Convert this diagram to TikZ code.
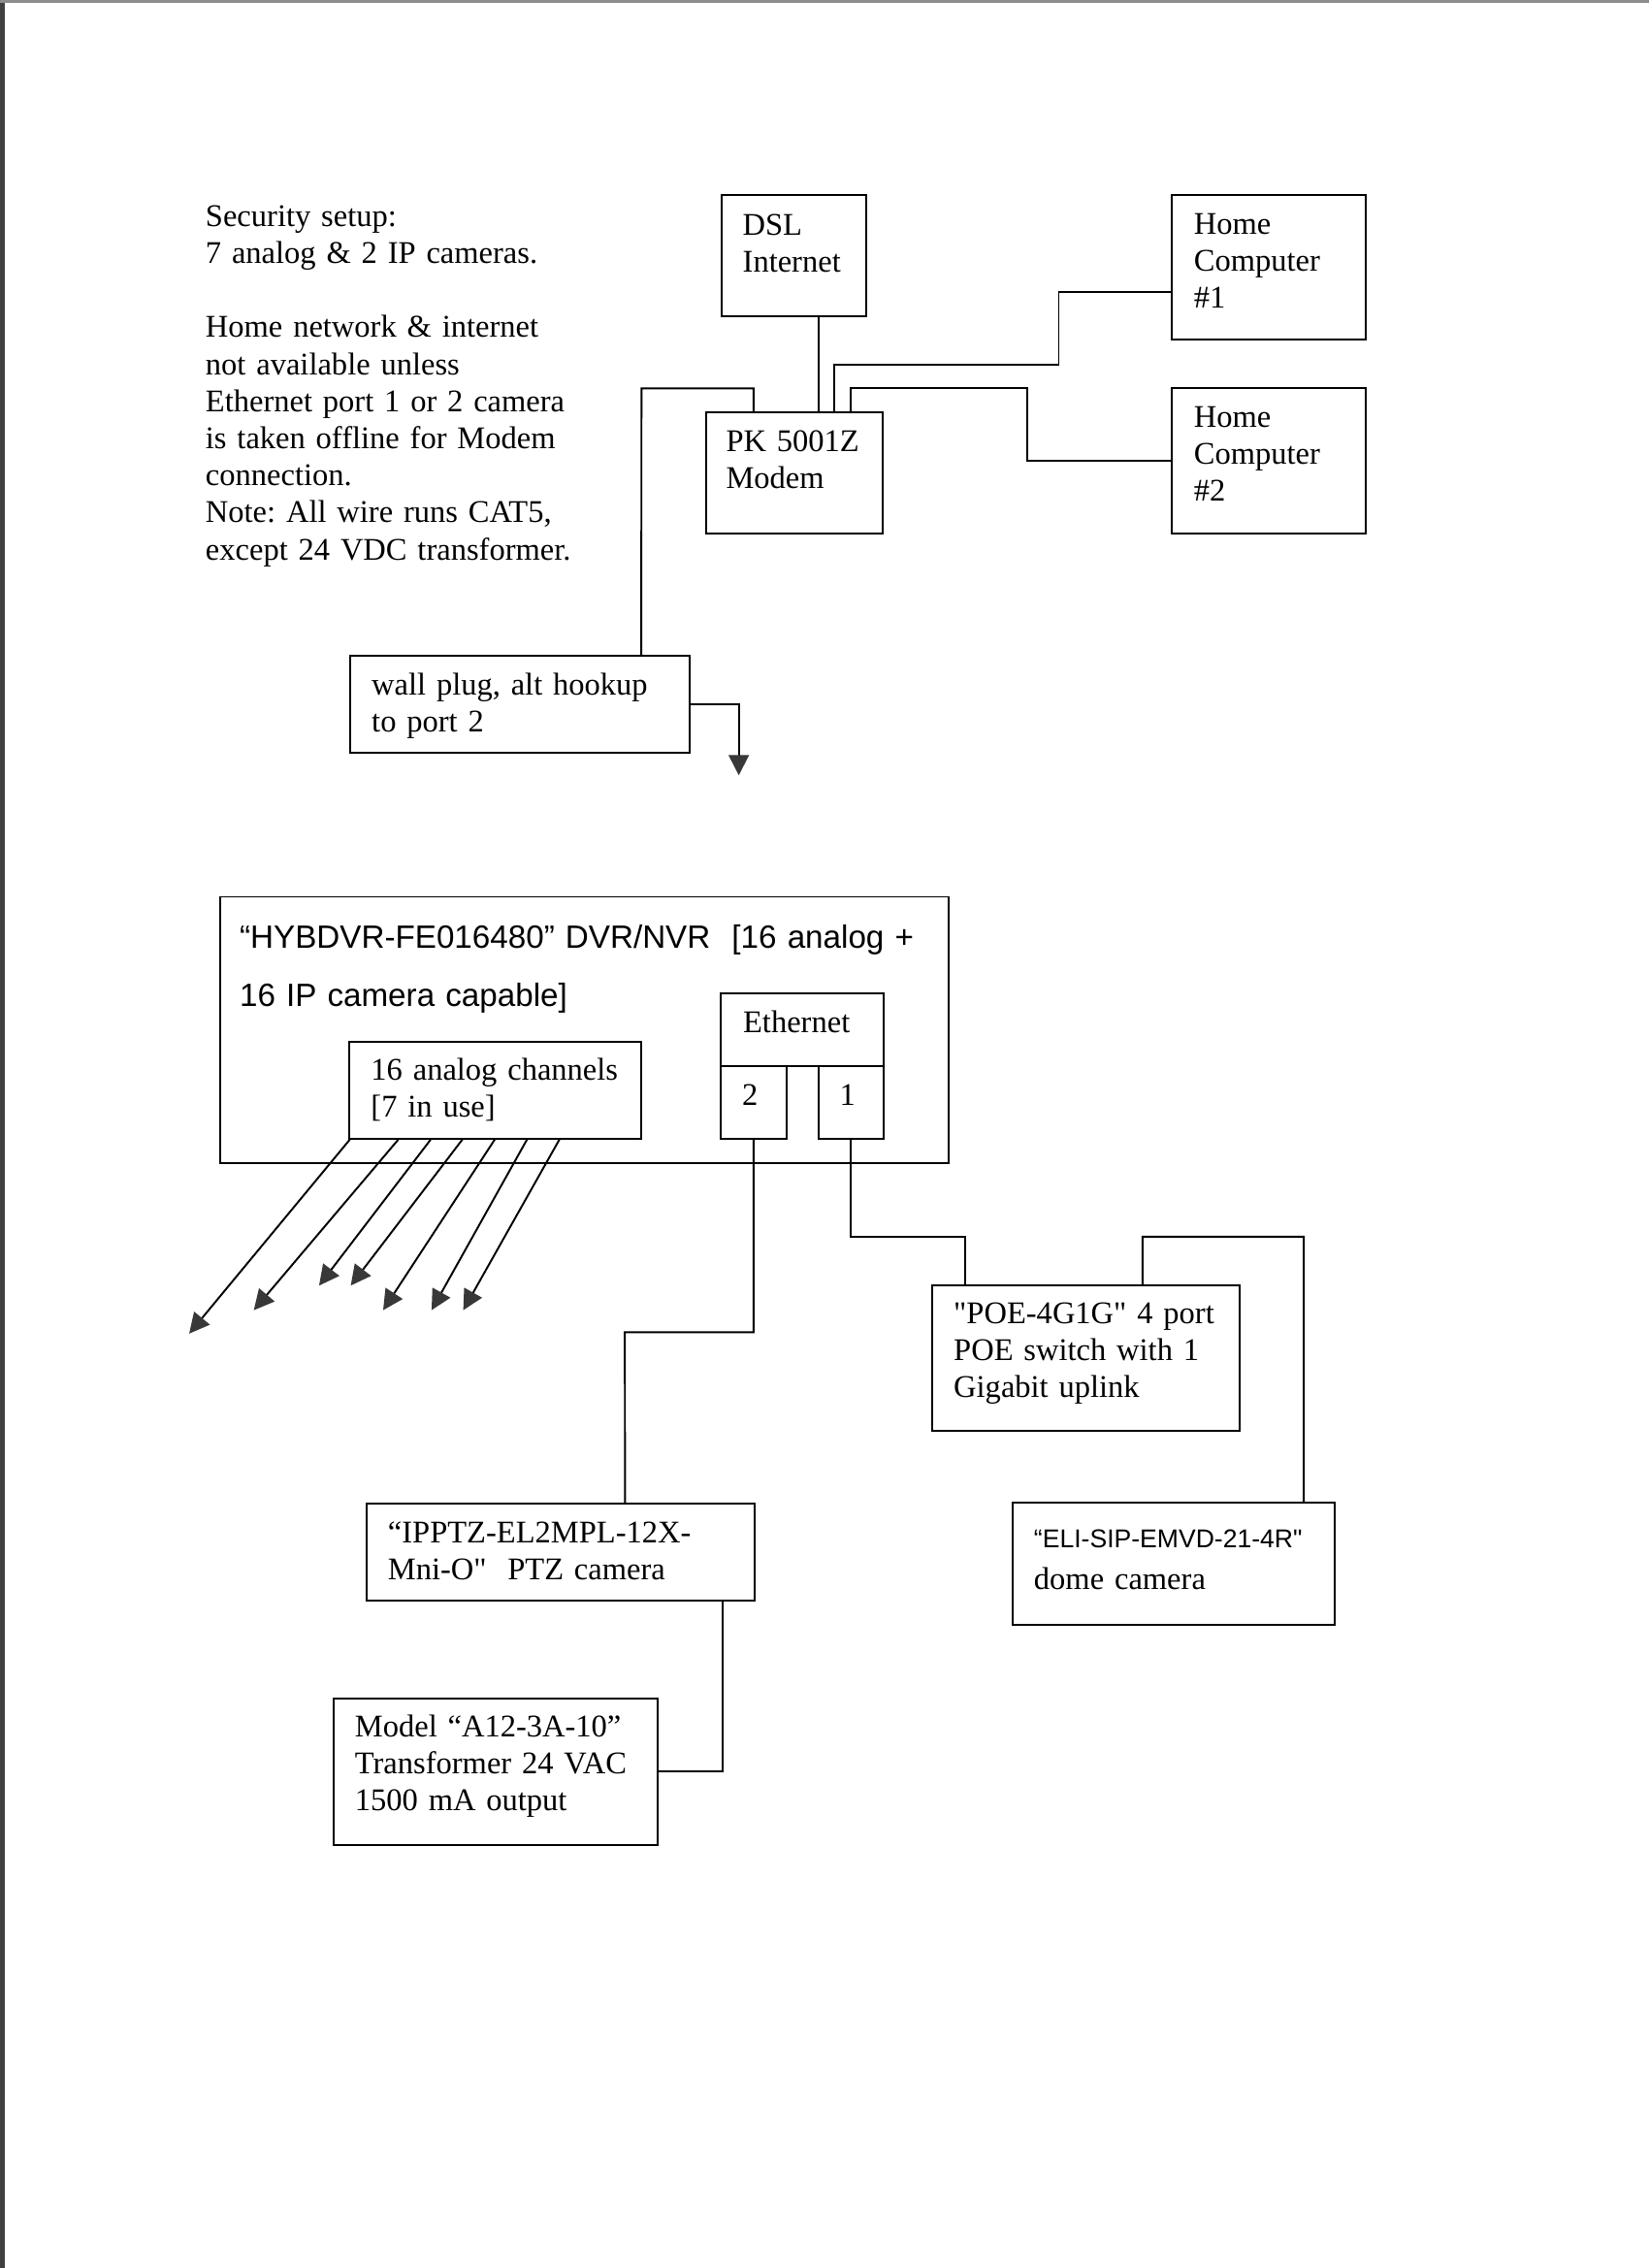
\documentclass[tikz,border=0pt]{standalone}
\usepackage{fontspec}
\setmainfont{Liberation Serif}
\newfontfamily\arial{Liberation Sans}
\usetikzlibrary{arrows.meta, fit}
\frenchspacing

\begin{document}
\begin{tikzpicture}[x=0.018939cm, y=-0.018939cm, line width=0.7pt,
    >={Triangle[length=7.5pt, width=7.5pt, color=black!78]},
    every node/.style={font=\fontsize{11.75}{13.8}\selectfont}]
  \tikzset{box/.style={draw, fit={#1}, inner sep=0pt},
           txt/.style={anchor=base west, inner sep=0pt, text width=10cm, align=left}}

  % page and scan edges
  \useasboundingbox[fill=white] (0,0) rectangle (1140,1568);
  \fill[black!75] (0,0) rectangle (3.4,1568);
  \fill[black!45] (0,0) rectangle (1140,2.2);

  % notes
  \node[txt] (notes) at (141.5,156.5) {Security setup:\\7 analog \& 2 IP cameras.\\[13.8pt]Home network \& internet\\not available unless\\Ethernet port 1 or 2 camera\\is taken offline for Modem\\connection.\\Note: All wire runs CAT5,\\except 24 VDC transformer.};

  % home network
  \node[box={(499,135) (599,218.7)}] (dsl) {};
  \node[box={(810,135) (944,235)}] (hc1) {};
  \node[box={(810,268) (944,369)}] (hc2) {};
  \node[box={(488,285.3) (610,369)}] (modem) {};
  \node[box={(242,453.5) (476.8,520.4)}] (wall) {};

  \node[txt] (dsl-t) at ([shift={(14.5,28)}]dsl.north west) {DSL\\Internet};
  \node[txt] (hc1-t) at ([shift={(15.5,27.6)}]hc1.north west) {Home\\Computer\\\#1};
  \node[txt] (hc2-t) at ([shift={(15.5,27.8)}]hc2.north west) {Home\\Computer\\\#2};
  \node[txt] (modem-t) at ([shift={(14,27.3)}]modem.north west) {PK 5001Z\\Modem};
  \node[txt] (wall-t) at ([shift={(15,27.5)}]wall.north west) {wall plug, alt hookup\\to port 2};

  \draw ([shift={(17,0)}]modem.north) -- ([shift={(17,0)}]dsl.south);
  \draw ([shift={(28,0)}]modem.north) |- (732,252) |- ([shift={(0,17)}]hc1.west);
  \draw ([shift={(39,0)}]modem.north) |- (710,268.5) |- (hc2.west);
  \draw ([shift={(-28,0)}]modem.north) |- (443.5,268.5) -- ([shift={(84,0)}]wall.north);
  \draw[->] (wall.east) -| (510.8,536);

  % DVR/NVR
  \node[box={(152,620) (656,804)}] (dvr) {};
  \node[box={(241.5,720) (443.5,787.2)}] (analog) {};
  \node[box={(498.3,686.5) (610.8,737)}] (eth) {};
  \node[box={(498.3,737) (543.6,787.2)}] (port2) {};
  \node[box={(565.9,737) (610.8,787.2)}] (port1) {};

  \node[txt, font=\arial\fontsize{12}{21.6}\selectfont] (dvr-t) at ([shift={(13.7,36.5)}]dvr.north west) {“HYBDVR-FE016480” DVR/NVR\ \ [16 analog +\\16 IP camera capable]};
  \node[txt] (analog-t) at ([shift={(15,27.6)}]analog.north west) {16 analog channels\\{[7 in use]}};
  \node[txt] (eth-t) at ([shift={(15.5,28)}]eth.north west) {Ethernet};
  \node[txt] (port2-t) at ([shift={(14.8,27.8)}]port2.north west) {2};
  \node[txt] (port1-t) at ([shift={(14.7,27.8)}]port1.north west) {1};

  % analog camera runs
  \foreach \dx/\tx/\ty in {1/130.8/922, 34.5/175.5/905.8, 56.9/220.6/888.8, 78.8/242.5/888.8,
                          101.2/264.9/905.8, 123.5/298.4/905.8, 145.9/320.3/905.8}
    \draw[->] ([shift={(\dx,0)}]analog.south west) -- (\tx,\ty);

  % IP cameras
  \node[box={(644.5,888.5) (857.3,989)}] (poe) {};
  \node[box={(700,1039) (923,1123.3)}] (dome) {};
  \node[box={(253.3,1039.4) (522,1106.5)}] (ptz) {};
  \node[box={(230.9,1174) (454.9,1275.3)}] (trafo) {};

  \node[txt] (poe-t) at ([shift={(14.9,27)}]poe.north west) {\textquotedbl POE-4G1G\textquotedbl{} 4 port\\POE switch with 1\\Gigabit uplink};
  \node[txt, font=\arial\fontsize{9.6}{11}\selectfont] (dome-t1) at ([shift={(14.9,31.7)}]dome.north west) {“ELI-SIP-EMVD-21-4R\textquotedbl};
  \node[txt] (dome-t2) at ([shift={(14.9,60.8)}]dome.north west) {dome camera};
  \node[txt] (ptz-t) at ([shift={(14.9,28)}]ptz.north west) {“IPPTZ-EL2MPL-12X-\\Mni-O\textquotedbl\ \ PTZ camera};
  \node[txt] (trafo-t) at ([shift={(14.5,27.5)}]trafo.north west) {Model “A12-3A-10”\\Transformer 24 VAC\\1500 mA output};

  \draw (port2.south) |- (432,921) -- ([shift={(44.5,0)}]ptz.north);
  \draw (port1.south) |- (667,855) -- ([shift={(-83.9,0)}]poe.north);
  \draw ([shift={(39,0)}]poe.north) |- (901.4,855) -- ([shift={(89.9,0)}]dome.north);
  \draw ([shift={(112,0)}]ptz.south) |- (trafo.east);
\end{tikzpicture}
\end{document}
